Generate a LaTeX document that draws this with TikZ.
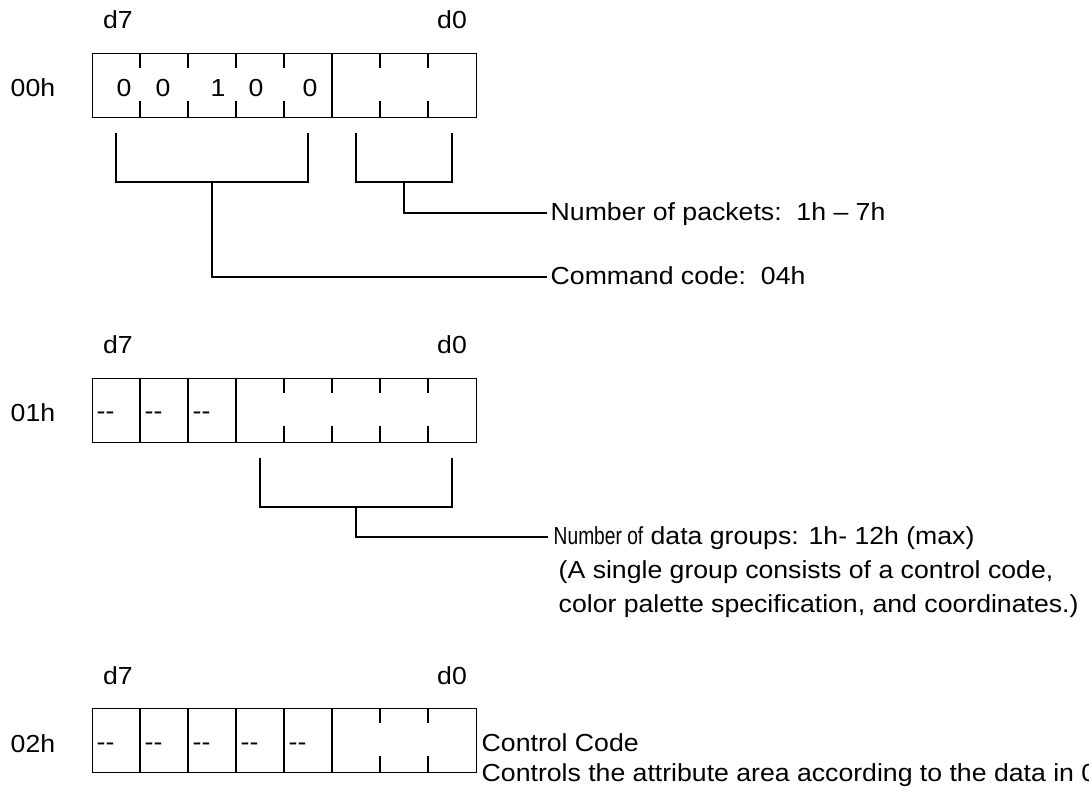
\documentclass[tikz,border=0pt]{standalone}
\usepackage{fontspec}
\setmainfont{Liberation Sans}[FakeStretch=1.08]
\usepackage{graphicx}
\begin{document}
\begin{tikzpicture}[x=0.75pt,y=-0.75pt,line width=1.1pt,
  txt/.style={font=\fontsize{18.5}{25}\selectfont,inner sep=0pt,anchor=base west},
  ctxt/.style={font=\fontsize{18.5}{25}\selectfont,inner sep=0pt,anchor=base},
  reg/.style={draw,minimum width=288pt,minimum height=48pt,anchor=north west,inner sep=0pt}]
\clip (0,0) rectangle (1089,787);
% ---------- register 00h ----------
\node[reg] (r0) at (92,53) {};
\draw (332,53) -- (332,117);
\foreach \x in {140,188,236,284,380,428}{
  \draw (\x,53) -- (\x,68);
  \draw (\x,101) -- (\x,117);
}
\node[ctxt] (r0d7) at (118,29) {d7};
\node[ctxt] (r0d0) at (452,29) {d0};
\node[txt] (r0lab) at (10,97) {00h};
\node[ctxt] (b7) at (124,97) {0};
\node[ctxt] (b6) at (163,97) {0};
\node[ctxt] (b5) at (218,97) {1};
\node[ctxt] (b4) at (256,97) {0};
\node[ctxt] (b3) at (310,97) {0};
% brackets
\coordinate (cmdA) at (116,133);
\coordinate (cmdB) at (308,133);
\coordinate (cmdM) at (212,182);
\coordinate (pktA) at (356,133);
\coordinate (pktB) at (452,133);
\coordinate (pktM) at (404,182);
\draw (cmdA) |- (cmdB |- cmdM) -- (cmdB);
\draw (pktA) |- (pktB |- pktM) -- (pktB);
\node[txt] (pkt) at (550,221) {Number of packets:\ \ 1h – 7h};
\node[txt] (cmd) at (550,285) {Command code:\ \ 04h};
\draw (pktM) |- ([xshift=-2.25pt,yshift=6pt]pkt.base west);
\draw (cmdM) |- ([xshift=-2.25pt,yshift=6pt]cmd.base west);
% ---------- register 01h ----------
\node[reg] (r1) at (92,378) {};
\foreach \x in {140,188,236}{\draw (\x,378) -- (\x,442);}
\foreach \x in {284,332,380,428}{
  \draw (\x,378) -- (\x,393);
  \draw (\x,426) -- (\x,442);
}
\node[ctxt] (r1d7) at (118,354) {d7};
\node[ctxt] (r1d0) at (452,354) {d0};
\node[txt] (r1lab) at (10,422) {01h};
\foreach \x/\n in {96/a,144/b,192/c}{\node[txt] (r1\n) at (\x,420) {-{}-};}
\coordinate (grpA) at (260,458);
\coordinate (grpB) at (452,458);
\coordinate (grpM) at (356,507);
\draw (grpA) |- (grpB |- grpM) -- (grpB);
\node[txt] (grp1) at (553,545) {\scalebox{0.72}[1]{Number of} data groups: 1h- 12h (max)};
\node[txt] (grp2) at (558,579) {(A single group consists of a control code,};
\node[txt] (grp3) at (558,613) {color palette specification, and coordinates.)};
\draw (grpM) |- ([xshift=-4pt,yshift=6pt]grp1.base west);
% ---------- register 02h ----------
\node[reg] (r2) at (92,708) {};
\foreach \x in {140,188,236,284,332}{\draw (\x,708) -- (\x,772);}
\foreach \x in {380,428}{
  \draw (\x,708) -- (\x,723);
  \draw (\x,756) -- (\x,772);
}
\node[ctxt] (r2d7) at (118,684) {d7};
\node[ctxt] (r2d0) at (452,684) {d0};
\node[txt] (r2lab) at (10,752) {02h};
\foreach \x/\n in {96/a,144/b,192/c,240/d,288/e}{\node[txt] (r2\n) at (\x,750) {-{}-};}
\node[txt] (cc1) at (481,751) {Control Code};
\node[txt] (cc2) at (481,781) {Controls the attribute area according to the data in 0};
\end{tikzpicture}
\end{document}
